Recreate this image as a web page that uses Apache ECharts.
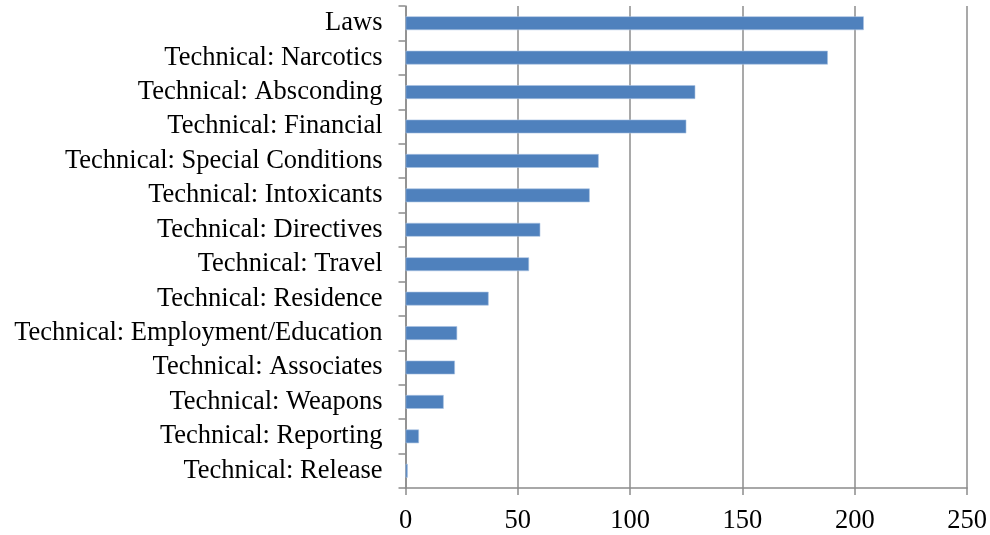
<!DOCTYPE html>
<html><head><meta charset="utf-8">
<script src="https://cdn.jsdelivr.net/npm/echarts@6/dist/echarts.min.js"></script>
<style>html,body{margin:0;padding:0;background:#fff}#c{width:990px;height:535px}</style>
</head><body><div id="c"></div>
<script>
const categories = ["Laws","Technical: Narcotics","Technical: Absconding","Technical: Financial","Technical: Special Conditions","Technical: Intoxicants","Technical: Directives","Technical: Travel","Technical: Residence","Technical: Employment/Education","Technical: Associates","Technical: Weapons","Technical: Reporting","Technical: Release"];
const values = [204,188,129,125,86,82,60,55,37,23,22,17,6,1];
const xTicks = {min:0,max:250,interval:50};

const chart = echarts.init(document.getElementById('c'));
const font = '"Liberation Serif","Times New Roman",serif';
chart.setOption({
  animation:false,
  grid:{left:405.5,right:22,top:6,bottom:46,containLabel:false},
  xAxis:{type:'value',min:xTicks.min,max:xTicks.max,interval:xTicks.interval,
    axisLine:{show:true,lineStyle:{color:'#8c8c8c',width:1.5}},
    axisTick:{show:true,length:7,lineStyle:{color:'#8c8c8c',width:1.5}},
    splitLine:{show:true,lineStyle:{color:'#8c8c8c',width:1.5}},
    axisLabel:{color:'#000',fontFamily:font,fontSize:26.5,margin:20}},
  yAxis:{type:'category',inverse:true,data:categories,
    axisLine:{show:true,lineStyle:{color:'#8c8c8c',width:1.5}},
    axisTick:{show:true,length:7,interval:0,lineStyle:{color:'#8c8c8c',width:1.5}},
    axisLabel:{color:'#000',fontFamily:font,fontSize:26.5,margin:23,interval:0}},
  series:[{type:'bar',data:values,barWidth:'40%',
    itemStyle:{color:'#4f81bd',borderColor:'#a9c2e2',borderWidth:0.6}}]
});
</script></body></html>
